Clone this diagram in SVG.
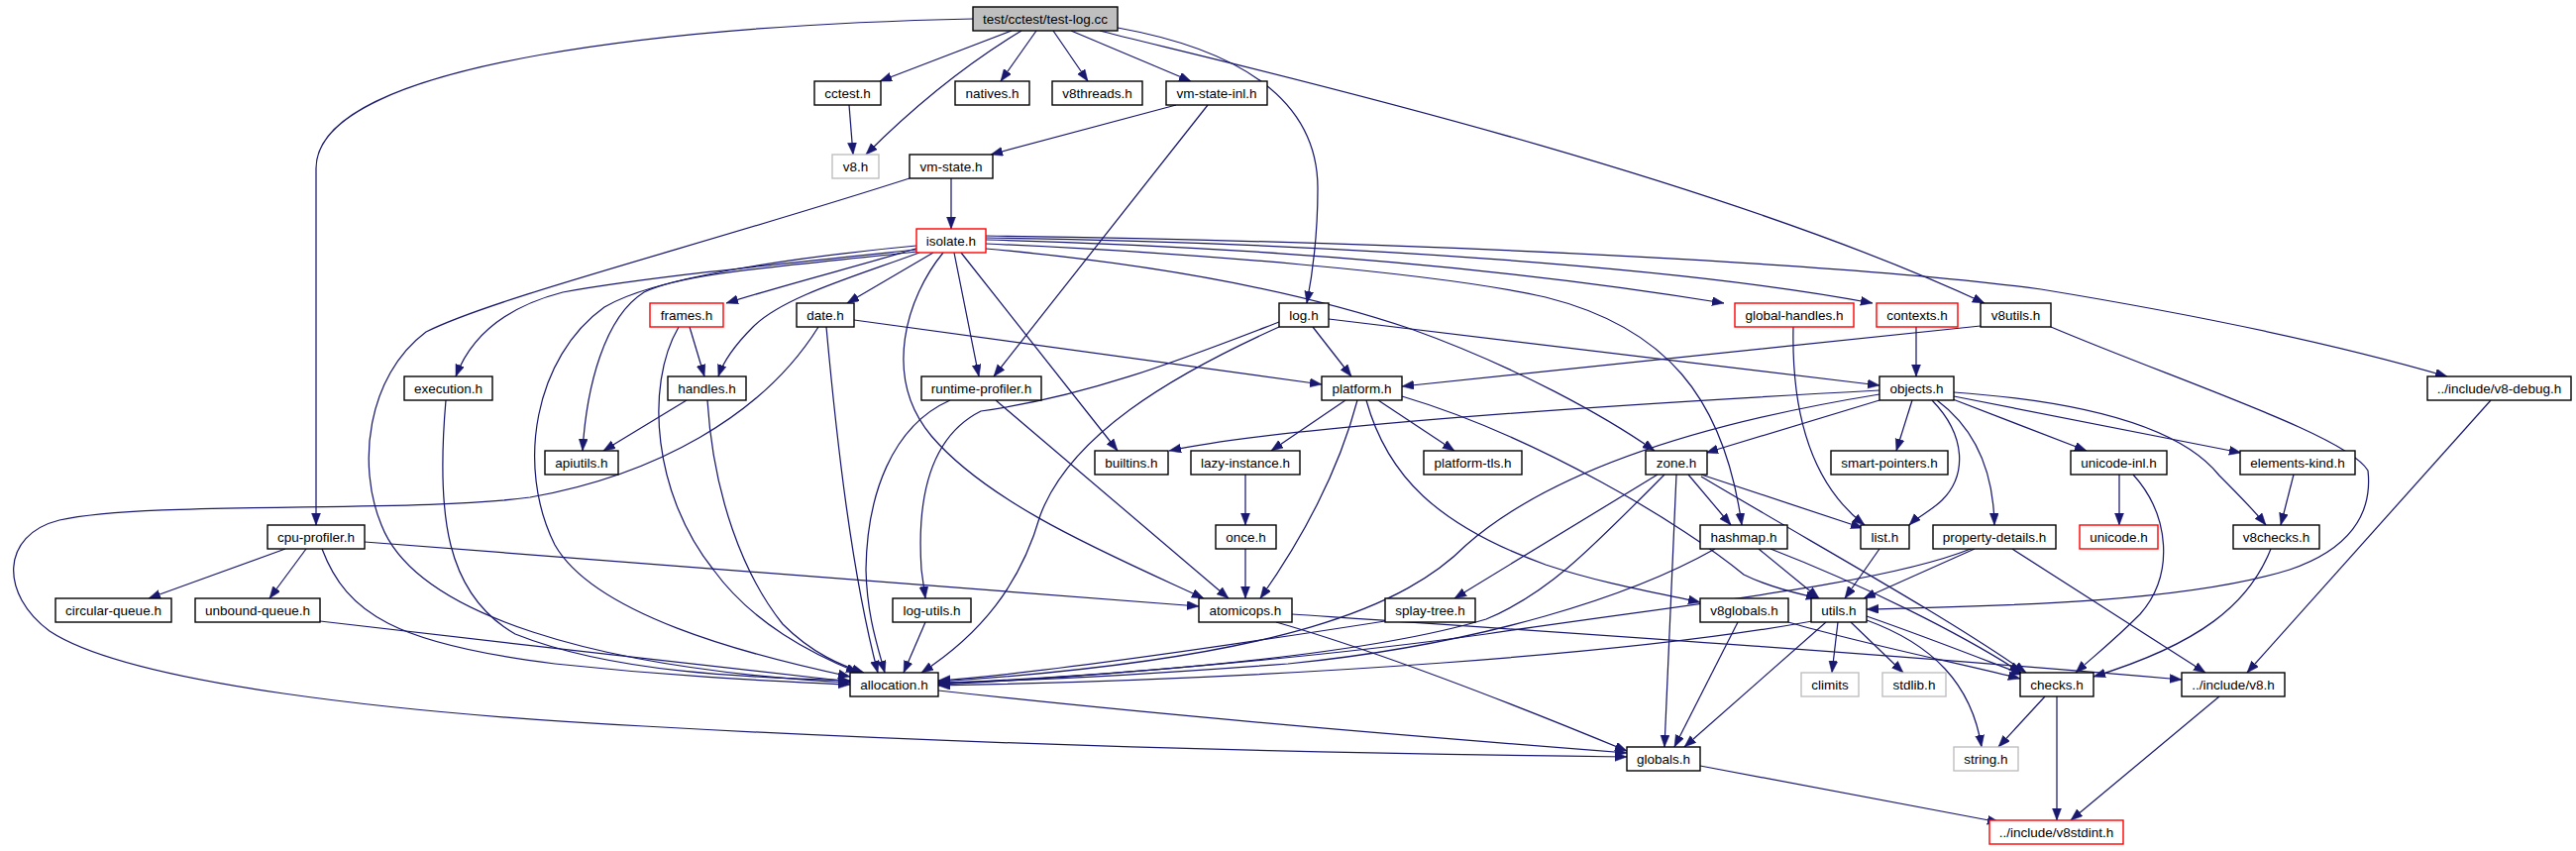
<svg xmlns="http://www.w3.org/2000/svg" width="2600" height="859" viewBox="0 0 2600 859">
<style>
.n rect{fill:#fff;stroke:#000;stroke-width:1.4}
.n text{font-family:"Liberation Sans",Arial,sans-serif;font-size:13.5px;text-anchor:middle;fill:#000}
.n.gray rect{stroke:#bfbfbf}
.n.red rect{stroke:#ff0000}
.n.root rect{fill:#bfbfbf}
#edges path{fill:none;stroke:#191970;stroke-width:1.25;marker-end:url(#ah)}
</style>
<defs>
<marker id="ah" markerUnits="userSpaceOnUse" markerWidth="14" markerHeight="10" refX="12" refY="4.5" orient="auto">
<path d="M0,0 L12,4.5 L0,9 z" fill="#191970" stroke="#191970" stroke-width="0.5"/>
</marker>
</defs>
<rect width="2600" height="859" fill="#fff"/>
<g id="edges">
<path d="M1021,31 L888,82"/>
<path d="M1031,31 Q950,80 874,156"/>
<path d="M1046,31 L1010,82"/>
<path d="M1063,31 L1098,82"/>
<path d="M1081,31 L1202,82"/>
<path d="M1128,28 C1250,50 1330,100 1330,190 C1330,240 1325,275 1319,306"/>
<path d="M1110,31 C1200,55 1700,165 2003,306"/>
<path d="M982,19 C700,25 319,60 319,170 L319,530"/>
<path d="M857,106 L861,156"/>
<path d="M1187,106 L1000,156"/>
<path d="M1219,106 L1003,380"/>
<path d="M960,180 L960,231"/>
<path d="M918,180 C700,250 500,300 430,335 C370,380 360,470 385,530 C420,620 600,675 858,689"/>
<path d="M927,250 C880,265 800,285 733,306"/>
<path d="M928,255 C860,280 790,300 760,330 C740,350 730,365 725,380"/>
<path d="M942,255 L855,306"/>
<path d="M963,255 L988,380"/>
<path d="M970,255 L1128,455"/>
<path d="M952,255 C915,300 890,380 940,440 C1000,510 1120,560 1215,604"/>
<path d="M925,248 C800,260 660,280 610,310 C540,360 520,470 560,550 C600,620 750,660 858,683"/>
<path d="M925,252 C800,265 650,280 568,295 C510,310 475,340 460,380"/>
<path d="M926,254 C800,268 690,275 650,295 C610,320 592,390 588,455"/>
<path d="M995,251 C1150,265 1300,290 1424,332 C1530,370 1620,420 1670,455"/>
<path d="M995,246 C1200,255 1450,275 1560,300 C1680,330 1740,400 1758,530"/>
<path d="M995,242 C1300,250 1550,275 1740,306"/>
<path d="M995,240 C1350,245 1700,270 1890,306"/>
<path d="M995,238 C1500,245 1900,270 2060,292 C2200,315 2350,345 2470,380"/>
<path d="M450,404 C440,520 450,600 520,640 C620,680 760,684 858,687"/>
<path d="M696,330 L711,380"/>
<path d="M685,330 C650,390 660,500 720,575 C760,630 820,660 866,679"/>
<path d="M693,404 L609,455"/>
<path d="M714,404 C720,500 750,580 790,630 C820,660 850,672 872,679"/>
<path d="M862,323 L1334,388"/>
<path d="M834,330 C845,450 860,580 886,679"/>
<path d="M826,330 C770,420 660,480 535,502 C420,518 150,505 60,525 C0,540 0,600 50,637 C130,690 400,720 650,733 C950,750 1300,760 1642,764"/>
<path d="M959,404 C900,430 875,500 874,575 C875,620 885,650 893,679"/>
<path d="M1005,404 L1240,604"/>
<path d="M1325,330 L1364,380"/>
<path d="M1341,322 L1897,389"/>
<path d="M1291,325 C1200,360 1100,400 990,415 C940,440 925,500 930,575 L934,604"/>
<path d="M1291,330 C1180,380 1080,440 1050,520 C1030,590 990,640 930,679"/>
<path d="M1810,330 C1808,420 1830,490 1882,530"/>
<path d="M1934,330 L1934,380"/>
<path d="M1999,329 C1800,350 1550,375 1415,390"/>
<path d="M2070,330 C2200,385 2370,440 2390,475 C2395,520 2370,555 2311,575 C2200,610 2000,612 1884,615"/>
<path d="M2514,404 L2268,679"/>
<path d="M1358,404 L1283,455"/>
<path d="M1391,404 L1468,455"/>
<path d="M1370,404 C1350,480 1310,550 1272,604"/>
<path d="M1379,404 C1400,480 1450,530 1560,570 C1620,590 1680,600 1716,608"/>
<path d="M1415,400 C1550,440 1700,530 1760,580 C1790,595 1820,600 1835,604"/>
<path d="M1897,394 C1600,410 1300,430 1180,455"/>
<path d="M1897,404 L1722,457"/>
<path d="M1897,398 C1700,430 1560,480 1480,550 C1420,610 1300,665 947,688"/>
<path d="M1930,404 L1914,455"/>
<path d="M1950,404 C1985,440 1985,480 1960,505 C1950,515 1935,522 1927,530"/>
<path d="M1955,404 C1990,430 2012,470 2013,530"/>
<path d="M1971,403 L2106,455"/>
<path d="M1972,400 C2100,425 2200,445 2262,457"/>
<path d="M1972,396 C2100,405 2200,430 2240,480 C2260,500 2275,515 2287,530"/>
<path d="M1257,479 L1257,530"/>
<path d="M1257,554 L1257,604"/>
<path d="M1704,479 L1747,530"/>
<path d="M1717,479 L1880,533"/>
<path d="M1673,479 L1468,604"/>
<path d="M1680,479 C1600,560 1560,600 1500,625 C1350,670 1050,685 947,690"/>
<path d="M1692,479 L1680,754"/>
<path d="M1717,481 C1850,560 1960,620 2045,679"/>
<path d="M1731,554 C1650,600 1500,650 1300,670 C1100,685 1000,688 947,689"/>
<path d="M1775,554 L1836,604"/>
<path d="M1787,554 C1880,590 1980,640 2040,679"/>
<path d="M1897,554 L1862,604"/>
<path d="M1989,554 C1900,590 1700,610 1500,640 C1300,668 1050,686 947,691"/>
<path d="M1993,554 L1881,604"/>
<path d="M2031,554 L2226,679"/>
<path d="M2139,479 L2139,530"/>
<path d="M2153,479 C2190,520 2195,580 2160,620 C2130,650 2110,665 2095,679"/>
<path d="M2315,479 L2302,530"/>
<path d="M2292,554 C2270,610 2220,650 2113,683"/>
<path d="M288,554 L150,604"/>
<path d="M309,554 L272,604"/>
<path d="M325,554 C350,620 400,650 560,670 C700,685 800,688 858,691"/>
<path d="M368,547 L1210,612"/>
<path d="M323,627 C500,648 700,670 858,688"/>
<path d="M934,628 L912,679"/>
<path d="M1288,628 C1400,660 1550,720 1642,758"/>
<path d="M1304,620 C1600,640 1900,660 2202,686"/>
<path d="M1398,627 C1250,650 1050,680 947,687"/>
<path d="M1754,628 L1690,754"/>
<path d="M1805,628 C1880,650 1980,670 2039,685"/>
<path d="M1829,627 C1650,660 1300,685 947,692"/>
<path d="M1843,628 L1700,754"/>
<path d="M1855,628 L1849,679"/>
<path d="M1868,628 L1921,679"/>
<path d="M1884,626 C1950,650 1990,690 2000,754"/>
<path d="M1884,622 C1950,645 2000,665 2042,681"/>
<path d="M947,697 C1200,725 1450,745 1642,760"/>
<path d="M2064,703 L2017,754"/>
<path d="M2076,703 L2076,828"/>
<path d="M2240,703 L2090,828"/>
<path d="M1716,773 L2018,830"/>
</g>
<g id="n-root" class="n root"><rect x="982" y="7" width="146" height="24"/><text x="1055" y="24">test/cctest/test-log.cc</text></g>
<g id="n-cctest" class="n"><rect x="822" y="82" width="67" height="24"/><text x="855.5" y="99">cctest.h</text></g>
<g id="n-natives" class="n"><rect x="964" y="82" width="75" height="24"/><text x="1001.5" y="99">natives.h</text></g>
<g id="n-v8threads" class="n"><rect x="1062" y="82" width="91" height="24"/><text x="1107.5" y="99">v8threads.h</text></g>
<g id="n-vmstateinl" class="n"><rect x="1177" y="82" width="102" height="24"/><text x="1228" y="99">vm-state-inl.h</text></g>
<g id="n-v8h" class="n gray"><rect x="840" y="156" width="47" height="24"/><text x="863.5" y="173">v8.h</text></g>
<g id="n-vmstate" class="n"><rect x="918" y="156" width="84" height="24"/><text x="960" y="173">vm-state.h</text></g>
<g id="n-isolate" class="n red"><rect x="925" y="231" width="70" height="24"/><text x="960" y="248">isolate.h</text></g>
<g id="n-frames" class="n red"><rect x="656" y="306" width="74" height="24"/><text x="693" y="323">frames.h</text></g>
<g id="n-date" class="n"><rect x="804" y="306" width="58" height="24"/><text x="833" y="323">date.h</text></g>
<g id="n-log" class="n"><rect x="1291" y="306" width="50" height="24"/><text x="1316" y="323">log.h</text></g>
<g id="n-globalhandles" class="n red"><rect x="1751" y="306" width="120" height="24"/><text x="1811" y="323">global-handles.h</text></g>
<g id="n-contexts" class="n red"><rect x="1894" y="306" width="82" height="24"/><text x="1935" y="323">contexts.h</text></g>
<g id="n-v8utils" class="n"><rect x="1999" y="306" width="71" height="24"/><text x="2034.5" y="323">v8utils.h</text></g>
<g id="n-execution" class="n"><rect x="408" y="380" width="89" height="24"/><text x="452.5" y="397">execution.h</text></g>
<g id="n-handles" class="n"><rect x="674" y="380" width="79" height="24"/><text x="713.5" y="397">handles.h</text></g>
<g id="n-runtimeprofiler" class="n"><rect x="930" y="380" width="121" height="24"/><text x="990.5" y="397">runtime-profiler.h</text></g>
<g id="n-platform" class="n"><rect x="1334" y="380" width="81" height="24"/><text x="1374.5" y="397">platform.h</text></g>
<g id="n-objects" class="n"><rect x="1897" y="380" width="75" height="24"/><text x="1934.5" y="397">objects.h</text></g>
<g id="n-v8debug" class="n"><rect x="2450" y="380" width="145" height="24"/><text x="2522.5" y="397">../include/v8-debug.h</text></g>
<g id="n-apiutils" class="n"><rect x="550" y="455" width="74" height="24"/><text x="587" y="472">apiutils.h</text></g>
<g id="n-builtins" class="n"><rect x="1105" y="455" width="74" height="24"/><text x="1142" y="472">builtins.h</text></g>
<g id="n-lazyinstance" class="n"><rect x="1202" y="455" width="110" height="24"/><text x="1257" y="472">lazy-instance.h</text></g>
<g id="n-platformtls" class="n"><rect x="1437" y="455" width="99" height="24"/><text x="1486.5" y="472">platform-tls.h</text></g>
<g id="n-zone" class="n"><rect x="1661" y="455" width="62" height="24"/><text x="1692" y="472">zone.h</text></g>
<g id="n-smartpointers" class="n"><rect x="1848" y="455" width="118" height="24"/><text x="1907" y="472">smart-pointers.h</text></g>
<g id="n-unicodeinl" class="n"><rect x="2090" y="455" width="97" height="24"/><text x="2138.5" y="472">unicode-inl.h</text></g>
<g id="n-elementskind" class="n"><rect x="2261" y="455" width="116" height="24"/><text x="2319" y="472">elements-kind.h</text></g>
<g id="n-cpuprofiler" class="n"><rect x="270" y="530" width="98" height="24"/><text x="319" y="547">cpu-profiler.h</text></g>
<g id="n-once" class="n"><rect x="1227" y="530" width="61" height="24"/><text x="1257.5" y="547">once.h</text></g>
<g id="n-hashmap" class="n"><rect x="1716" y="530" width="88" height="24"/><text x="1760" y="547">hashmap.h</text></g>
<g id="n-list" class="n"><rect x="1878" y="530" width="49" height="24"/><text x="1902.5" y="547">list.h</text></g>
<g id="n-propertydetails" class="n"><rect x="1951" y="530" width="124" height="24"/><text x="2013" y="547">property-details.h</text></g>
<g id="n-unicode" class="n red"><rect x="2099" y="530" width="79" height="24"/><text x="2138.5" y="547">unicode.h</text></g>
<g id="n-v8checks" class="n"><rect x="2254" y="530" width="87" height="24"/><text x="2297.5" y="547">v8checks.h</text></g>
<g id="n-circularqueue" class="n"><rect x="56" y="604" width="117" height="24"/><text x="114.5" y="621">circular-queue.h</text></g>
<g id="n-unboundqueue" class="n"><rect x="197" y="604" width="126" height="24"/><text x="260" y="621">unbound-queue.h</text></g>
<g id="n-logutils" class="n"><rect x="901" y="604" width="79" height="24"/><text x="940.5" y="621">log-utils.h</text></g>
<g id="n-atomicops" class="n"><rect x="1210" y="604" width="94" height="24"/><text x="1257" y="621">atomicops.h</text></g>
<g id="n-splaytree" class="n"><rect x="1398" y="604" width="91" height="24"/><text x="1443.5" y="621">splay-tree.h</text></g>
<g id="n-v8globals" class="n"><rect x="1716" y="604" width="89" height="24"/><text x="1760.5" y="621">v8globals.h</text></g>
<g id="n-utils" class="n"><rect x="1828" y="604" width="56" height="24"/><text x="1856" y="621">utils.h</text></g>
<g id="n-allocation" class="n"><rect x="858" y="679" width="89" height="24"/><text x="902.5" y="696">allocation.h</text></g>
<g id="n-climits" class="n gray"><rect x="1818" y="679" width="58" height="24"/><text x="1847" y="696">climits</text></g>
<g id="n-stdlib" class="n gray"><rect x="1900" y="679" width="64" height="24"/><text x="1932" y="696">stdlib.h</text></g>
<g id="n-checks" class="n"><rect x="2039" y="679" width="74" height="24"/><text x="2076" y="696">checks.h</text></g>
<g id="n-v8include" class="n"><rect x="2202" y="679" width="104" height="24"/><text x="2254" y="696">../include/v8.h</text></g>
<g id="n-globals" class="n"><rect x="1642" y="754" width="74" height="24"/><text x="1679" y="771">globals.h</text></g>
<g id="n-string" class="n gray"><rect x="1972" y="754" width="65" height="24"/><text x="2004.5" y="771">string.h</text></g>
<g id="n-v8stdint" class="n red"><rect x="2008" y="828" width="135" height="24"/><text x="2075.5" y="845">../include/v8stdint.h</text></g>
</svg>
